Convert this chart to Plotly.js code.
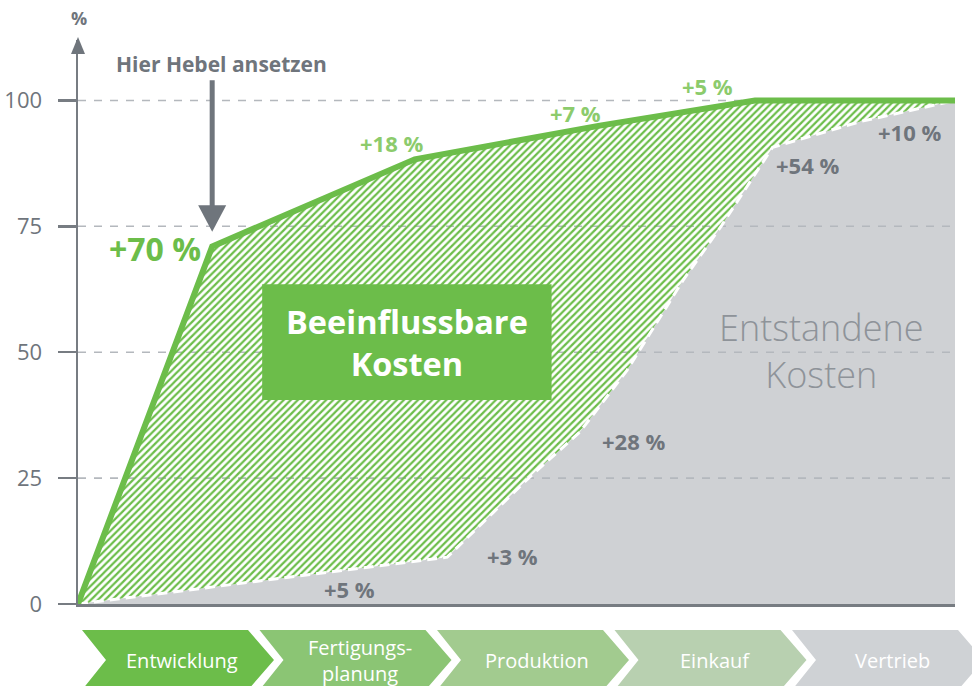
<!DOCTYPE html>
<html>
<head>
<meta charset="utf-8">
<script src="https://cdn.plot.ly/plotly-3.0.1.min.js"></script>
<style>
  html, body { margin: 0; padding: 0; background: #ffffff; }
  #chart { width: 972px; height: 686px; }
</style>
</head>
<body>
<div id="chart"></div>
<script>
// ---- data ----
// Beeinflussbare Kosten (cumulative, %), along the process axis (0..100)
const xInfluence = [0, 15.3, 38.4, 59.5, 77.2, 100];
const yInfluence = [0, 71.0, 88.3, 95.0, 100, 100];
// Entstandene Kosten (cumulative, %)
const xIncurred = [0, 42.1, 47.3, 51.5, 57.2, 62.6, 69.0, 73.4, 79.2, 89.2, 100];
const yIncurred = [0, 9.3, 18.1, 25.2, 34.1, 46.4, 64.3, 75.2, 90.7, 95.8, 100];
// y ticks
const yTicks = [0, 25, 50, 75, 100];
// step labels
const influenceLabels = ['+70 %', '+18 %', '+7 %', '+5 %'];
const incurredLabels = ['+5 %', '+3 %', '+28 %', '+54 %', '+10 %'];
// process stages
const stages = ['Entwicklung', 'Fertigungs-<br>planung', 'Produktion', 'Einkauf', 'Vertrieb'];

// ---- styling / layout constants ----
const GREEN = '#6cbd4a';
const LIGHTGREEN = '#8ccb6c';
const GRAY_AREA = '#cfd1d4';
const DARK = '#6f757c';
const GRIDC = '#b4b8bd';
const FONT = '"Open Sans", Roboto, sans-serif';
const stageColors = ['#6cbd4a', '#8bc574', '#a2cb8f', '#b8d0b0', '#cfd2d5'];

const L = 78, R = 17, T = 40, B = 82, W = 972, H = 686;
const PW = W - L - R, PH = H - T - B;
const px = x => (x - L) / PW;            // pixel -> paper x
const py = y => (H - B - y) / PH;        // pixel -> paper y

// gridline trace built from ticks
const gx = [], gy = [];
yTicks.filter(v => v > 0).forEach(v => { gx.push(0, 100, null); gy.push(v, v, null); });

// hatched polygon between the two curves
const hx = xInfluence.concat(xIncurred.slice().reverse());
const hy = yInfluence.concat(yIncurred.slice().reverse());

const traces = [
  { x: xIncurred, y: yIncurred, type: 'scatter', mode: 'lines', fill: 'tozeroy',
    fillcolor: GRAY_AREA, line: { width: 0, color: GRAY_AREA }, hoverinfo: 'skip' },
  { x: gx, y: gy, type: 'scatter', mode: 'lines', connectgaps: false,
    line: { color: GRIDC, width: 1.6, dash: '8px,8px' }, hoverinfo: 'skip' },
  { x: hx, y: hy, type: 'scatter', mode: 'lines', fill: 'toself', fillcolor: GREEN,
    fillpattern: { shape: '/', size: 5, solidity: 0.45 },
    line: { width: 0, color: GREEN }, hoverinfo: 'skip' },
  { x: xIncurred, y: yIncurred, type: 'scatter', mode: 'lines',
    line: { color: '#ffffff', width: 3, dash: '10px,6px' }, hoverinfo: 'skip' },
  { x: xInfluence, y: yInfluence, type: 'scatter', mode: 'lines',
    line: { color: GREEN, width: 6 }, hoverinfo: 'skip' }
];

const annotations = [];
const shapes = [];
const ann = o => annotations.push(Object.assign({ showarrow: false, xanchor: 'center', yanchor: 'middle' }, o));

// % label at axis top
ann({ xref: 'paper', yref: 'paper', x: px(79), y: py(18), text: '%',
  font: { family: FONT, size: 18, color: DARK, weight: 700 } });

// arrowhead on y axis
shapes.push({ type: 'path', xref: 'paper', yref: 'paper', layer: 'above',
  path: `M ${px(71)},${py(54)} L ${px(78)},${py(37)} L ${px(85)},${py(54)} Z`,
  fillcolor: DARK, line: { width: 0 } });

// "Hier Hebel ansetzen" arrow pointing at the first green knee
const kx = xInfluence[1];
shapes.push({ type: 'line', xref: 'x', yref: 'y', layer: 'above',
  x0: kx, x1: kx, y0: 104.0, y1: 78.5, line: { color: DARK, width: 5 } });
shapes.push({ type: 'path', xref: 'x', yref: 'y', layer: 'above',
  path: `M ${kx - 1.6},${79.2} L ${kx + 1.6},${79.2} L ${kx},${73.9} Z`,
  fillcolor: DARK, line: { width: 0 } });
ann({ xref: 'paper', yref: 'paper', x: px(221), y: py(64), text: 'Hier Hebel ansetzen',
  font: { family: FONT, size: 21, color: DARK, weight: 700 } });

// green box
shapes.push({ type: 'rect', xref: 'x', yref: 'y', layer: 'above',
  x0: 21.0, x1: 54.0, y0: 40.5, y1: 63.5, fillcolor: GREEN, line: { width: 0 } });
ann({ xref: 'x', yref: 'y', x: 37.5, y: 52.0, text: 'Beeinflussbare<br>Kosten',
  font: { family: FONT, size: 32.5, color: '#ffffff', weight: 700 } });

// Entstandene Kosten
ann({ xref: 'x', yref: 'y', x: 84.8, y: 50.3, text: 'Entstandene<br>Kosten',
  font: { family: FONT, size: 36, color: '#8e9399', weight: 300 } });

// step labels
const inflPos = [[8.8, 70.6, 32, GREEN], [35.8, 91.6, 22, LIGHTGREEN], [56.7, 97.6, 22, LIGHTGREEN], [71.8, 102.9, 22, LIGHTGREEN]];
influenceLabels.forEach((t, i) => {
  const p = inflPos[i];
  ann({ xref: 'x', yref: 'y', x: p[0], y: p[1], text: t,
    font: { family: FONT, size: p[2], color: p[3], weight: 700 } });
});
const incPos = [[31.0, 3.0], [49.6, 9.5], [63.3, 32.3], [83.2, 87.1], [94.8, 93.7]];
incurredLabels.forEach((t, i) => {
  const p = incPos[i];
  ann({ xref: 'x', yref: 'y', x: p[0], y: p[1], text: t,
    font: { family: FONT, size: 22, color: DARK, weight: 700 } });
});

// process chevrons
stages.forEach((s, i) => {
  const x0 = 82 + i * 177.5;
  const pts = [[x0, 630], [x0 + 166, 630], [x0 + 192, 660], [x0 + 166, 690], [x0, 690], [x0 + 24, 660]];
  const path = 'M ' + pts.map(p => `${px(p[0])},${py(p[1])}`).join(' L ') + ' Z';
  shapes.push({ type: 'path', xref: 'paper', yref: 'paper', layer: 'above', path,
    fillcolor: stageColors[i], line: { width: 0 } });
  ann({ xref: 'paper', yref: 'paper', x: px(x0 + 100), y: py(661), text: s,
    font: { family: FONT, size: 20, color: '#ffffff' } });
});

const layout = {
  width: W, height: H,
  margin: { l: L, r: R, t: T, b: B, pad: 0 },
  paper_bgcolor: '#ffffff', plot_bgcolor: '#ffffff',
  showlegend: false,
  xaxis: { range: [0, 100], showgrid: false, zeroline: false, showticklabels: false,
    ticks: '', showline: true, linecolor: '#777c82', linewidth: 2.5, fixedrange: true },
  yaxis: { range: [0, 112], tickvals: yTicks, ticktext: yTicks.map(String), showgrid: false,
    zeroline: false, showline: true, linecolor: '#777c82', linewidth: 2.5,
    ticks: 'outside', ticklen: 18, tickwidth: 2.5, tickcolor: '#777c82',
    ticklabelstandoff: 11, tickfont: { family: FONT, size: 22, color: DARK }, fixedrange: true },
  shapes, annotations
};

Plotly.newPlot('chart', traces, layout, { staticPlot: true, displayModeBar: false });
</script>
</body>
</html>
